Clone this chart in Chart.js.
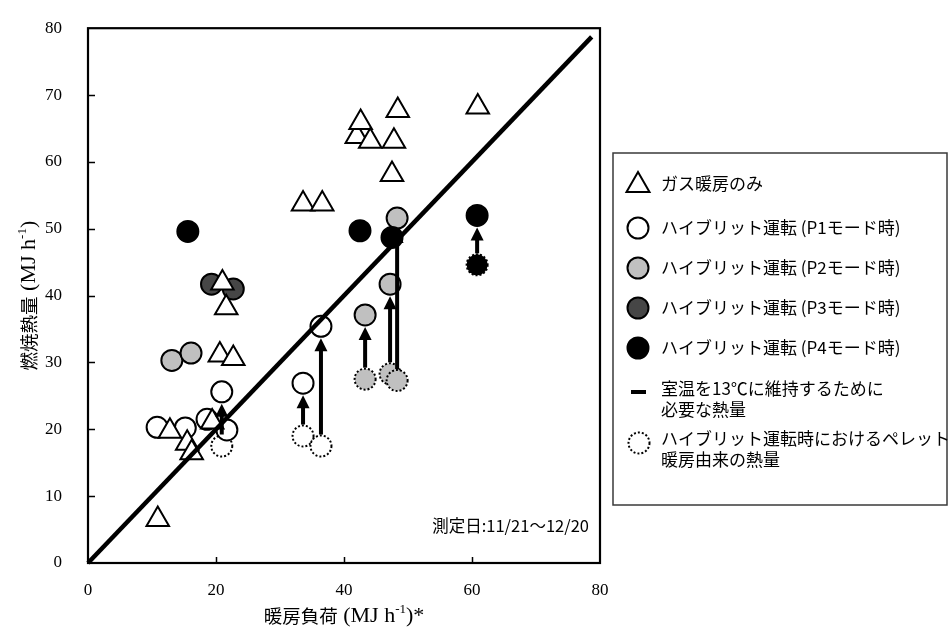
<!DOCTYPE html>
<html>
<head>
<meta charset="utf-8">
<script src="https://cdn.jsdelivr.net/npm/chart.js@4/dist/chart.umd.min.js"></script>
<style>
  html, body { margin: 0; padding: 0; background: #ffffff; }
  #wrap { position: relative; width: 950px; height: 635px; }
</style>
</head>
<body>
<div id="wrap"><canvas id="chart" width="950" height="635"></canvas></div>
<script>
// Axis ticks (MJ h-1)
const loadTicks = [0, 20, 40, 60, 80];
const heatTicks = [0, 10, 20, 30, 40, 50, 60, 70, 80];

// Gas heating only
const gasLoad = [10.9, 12.8, 15.5, 16.2, 19.4, 20.6, 22.7, 21.0, 21.6, 33.6, 36.6, 42.0, 42.6, 44.1, 47.8, 47.5, 48.4, 60.9];
const gasHeat = [6.5, 19.7, 17.9, 16.5, 21.1, 31.1, 30.6, 41.9, 38.2, 53.7, 53.7, 63.8, 65.9, 63.1, 63.1, 58.1, 67.7, 68.2];

// Hybrid operation, P1 mode
const p1Load = [10.8, 15.2, 18.6, 21.7, 20.9, 33.6, 36.4];
const p1Heat = [20.3, 20.2, 21.5, 19.9, 25.6, 26.9, 35.4];

// Hybrid operation, P2 mode
const p2Load = [13.1, 16.1, 43.3, 47.2, 48.3];
const p2Heat = [30.3, 31.4, 37.1, 41.7, 51.6];

// Hybrid operation, P3 mode
const p3Load = [19.3, 22.7];
const p3Heat = [41.7, 41.0];

// Hybrid operation, P4 mode
const p4Load = [15.6, 42.5, 47.5, 60.8];
const p4Heat = [49.6, 49.7, 48.7, 52.0];

// Heat supplied by the pellet stove during hybrid operation, and the
// total heat of the same run (arrow from the pellet share to the total)
const pelletLoad  = [20.9, 33.6, 36.4, 43.3, 47.2, 48.3, 60.8];
const pelletHeat  = [17.5, 19.0, 17.5, 27.5, 28.3, 27.3, 44.6];
const pelletMode  = ['P1', 'P1', 'P1', 'P2', 'P2', 'P2', 'P4'];
const hybridHeat  = [25.6, 26.9, 35.4, 37.1, 41.7, 51.6, 52.0];

// Heat required to keep the room at 13 °C (1:1 line)
const requiredLoad = [0, 78.7];
const requiredHeat = [0, 78.7];

const legendLabels = [
  ['ガス暖房のみ'],
  ['ハイブリット運転 (P1モード時)'],
  ['ハイブリット運転 (P2モード時)'],
  ['ハイブリット運転 (P3モード時)'],
  ['ハイブリット運転 (P4モード時)'],
  ['室温を13℃に維持するために', '必要な熱量'],
  ['ハイブリット運転時におけるペレット', '暖房由来の熱量']
];
const periodNote = '測定日:11/21〜12/20';

const CJK = "'Noto Sans CJK JP', 'Noto Sans', sans-serif";
const SERIF = "'Liberation Serif', 'Times New Roman', serif";
const modeFill = { P1: '#ffffff', P2: '#c0c0c0', P3: '#464646', P4: '#000000' };
const R = 10.5;

const pts = (xs, ys) => xs.map((v, i) => ({ x: v, y: ys[i] }));
const circleSet = (data, fill, order) => ({
  data, order, pointStyle: 'circle', pointRadius: R, pointHoverRadius: R,
  pointBackgroundColor: fill, pointBorderColor: '#000', pointBorderWidth: 2, showLine: false
});

function drawArrows(chart) {
  const { ctx, scales: { x, y } } = chart;
  ctx.save();
  ctx.fillStyle = '#000';
  ctx.strokeStyle = '#000';
  pelletLoad.forEach((v, i) => {
    const px = x.getPixelForValue(v);
    const yStart = y.getPixelForValue(pelletHeat[i]) - R - 1;
    const yTip = y.getPixelForValue(hybridHeat[i]) + R + 1.5;
    const head = 13, hw = 6.5;
    ctx.lineWidth = 4;
    ctx.beginPath();
    ctx.moveTo(px, yStart);
    ctx.lineTo(px, yTip + head - 1);
    ctx.stroke();
    ctx.beginPath();
    ctx.moveTo(px, yTip);
    ctx.lineTo(px - hw, yTip + head);
    ctx.lineTo(px + hw, yTip + head);
    ctx.closePath();
    ctx.fill();
  });
  ctx.restore();
}

// Dotted outline for the pellet markers, arrows after the 1:1 line
const markerPlugin = {
  id: 'markerPlugin',
  beforeDatasetDraw(chart, args) {
    const ds = chart.data.datasets[args.index];
    if (ds.dotted) { chart.ctx.save(); chart.ctx.setLineDash([2, 2]); }
  },
  afterDatasetDraw(chart, args) {
    const ds = chart.data.datasets[args.index];
    if (ds.dotted) chart.ctx.restore();
    if (ds.arrowsAfter) drawArrows(chart);
  }
};

// Plot frame with inward tick marks
const framePlugin = {
  id: 'framePlugin',
  beforeDatasetsDraw(chart) {
    const { ctx, chartArea: a, scales: { x, y } } = chart;
    ctx.save();
    ctx.strokeStyle = '#000';
    ctx.lineWidth = 1.5;
    ctx.beginPath();
    loadTicks.forEach(v => {
      if (v <= x.min || v >= x.max) return;
      const px = Math.round(x.getPixelForValue(v)) + 0.5;
      ctx.moveTo(px, a.bottom); ctx.lineTo(px, a.bottom - 6);
    });
    heatTicks.forEach(v => {
      if (v <= y.min || v >= y.max) return;
      const py = Math.round(y.getPixelForValue(v)) + 0.5;
      ctx.moveTo(a.left, py); ctx.lineTo(a.left + 7, py);
    });
    ctx.stroke();
    ctx.lineWidth = 2.2;
    ctx.strokeRect(a.left, a.top, a.right - a.left, a.bottom - a.top);
    ctx.restore();
  }
};

function drawMixed(ctx, parts, cx, cy) {
  let w = 0;
  parts.forEach(p => { ctx.font = p.font; p.w = ctx.measureText(p.t).width; w += p.w; });
  let x = cx - w / 2;
  ctx.textAlign = 'left';
  ctx.textBaseline = 'middle';
  parts.forEach(p => { ctx.font = p.font; ctx.fillText(p.t, x, cy + (p.dy || 0)); x += p.w; });
}

// Axis titles, note and legend box
const annotatePlugin = {
  id: 'annotatePlugin',
  afterDraw(chart) {
    const { ctx, chartArea: a } = chart;
    ctx.save();
    ctx.fillStyle = '#000';
    const cjk = '18.5px ' + CJK, ser = '22px ' + SERIF, sup = '13px ' + SERIF;

    drawMixed(ctx, [
      { t: '暖房負荷', font: cjk },
      { t: ' (MJ h', font: ser },
      { t: '-1', font: sup, dy: -6 },
      { t: ')*', font: ser }
    ], (a.left + a.right) / 2, 616);

    ctx.save();
    ctx.translate(29, (a.top + a.bottom) / 2);
    ctx.rotate(-Math.PI / 2);
    drawMixed(ctx, [
      { t: '燃焼熱量', font: cjk },
      { t: ' (MJ h', font: ser },
      { t: '-1', font: sup, dy: -6 },
      { t: ')', font: ser }
    ], 0, 0);
    ctx.restore();

    ctx.font = '16.5px ' + CJK;
    ctx.textAlign = 'right';
    ctx.textBaseline = 'middle';
    ctx.fillText(periodNote, a.right - 11, 526);

    // legend
    const bx = 613, by = 153, bw = 334, bh = 352;
    ctx.lineWidth = 1.5;
    ctx.strokeStyle = '#3a3a3a';
    ctx.strokeRect(bx, by, bw, bh);
    const sx = 638, tx = 661;
    const rows = [184, 228, 268, 308, 348, 389, 439];
    ctx.strokeStyle = '#000';
    ctx.lineWidth = 2;
    // triangle
    ctx.beginPath();
    ctx.moveTo(sx, rows[0] - 12);
    ctx.lineTo(sx + 11.5, rows[0] + 8);
    ctx.lineTo(sx - 11.5, rows[0] + 8);
    ctx.closePath();
    ctx.fillStyle = '#fff'; ctx.fill(); ctx.stroke();
    // mode circles
    ['P1', 'P2', 'P3', 'P4'].forEach((m, i) => {
      ctx.beginPath();
      ctx.arc(sx, rows[i + 1], 10.5, 0, Math.PI * 2);
      ctx.fillStyle = modeFill[m]; ctx.fill(); ctx.stroke();
    });
    // required heat line
    ctx.lineWidth = 4;
    ctx.beginPath(); ctx.moveTo(631, rows[5] + 3); ctx.lineTo(646, rows[5] + 3); ctx.stroke();
    // pellet share
    ctx.lineWidth = 2;
    ctx.setLineDash([2, 2]);
    ctx.beginPath(); ctx.arc(sx + 1, rows[6] + 4, 10.5, 0, Math.PI * 2);
    ctx.fillStyle = '#fff'; ctx.fill(); ctx.stroke();
    ctx.setLineDash([]);

    ctx.fillStyle = '#000';
    ctx.font = '17px ' + CJK;
    ctx.textAlign = 'left';
    ctx.textBaseline = 'middle';
    legendLabels.forEach((lines, i) => {
      lines.forEach((s, j) => ctx.fillText(s, tx, rows[i] + j * 21));
    });
    ctx.restore();
  }
};

new Chart(document.getElementById('chart'), {
  type: 'scatter',
  data: {
    datasets: [
      Object.assign(circleSet(pts(pelletLoad, pelletHeat), pelletMode.map(m => modeFill[m]), 8), { dotted: true, label: 'pellet' }),
      Object.assign(circleSet(pts(p1Load, p1Heat), modeFill.P1, 7), { label: 'P1' }),
      Object.assign(circleSet(pts(p2Load, p2Heat), modeFill.P2, 6), { label: 'P2' }),
      Object.assign(circleSet(pts(p3Load, p3Heat), modeFill.P3, 5), { label: 'P3' }),
      {
        label: 'gas', data: pts(gasLoad, gasHeat), order: 4, showLine: false,
        pointStyle: 'triangle', pointRadius: 13, pointHoverRadius: 13,
        pointBackgroundColor: '#fff', pointBorderColor: '#000', pointBorderWidth: 2
      },
      {
        label: 'required', data: pts(requiredLoad, requiredHeat), order: 3, showLine: true,
        borderColor: '#000', borderWidth: 4.5, pointRadius: 0, pointHoverRadius: 0,
        arrowsAfter: true, clip: false
      },
      Object.assign(circleSet(pts(p4Load, p4Heat), modeFill.P4, 1), { label: 'P4' })
    ]
  },
  options: {
    responsive: false,
    animation: false,
    devicePixelRatio: 1,
    events: [],
    layout: { padding: { top: 16, right: 350, left: 0, bottom: 0 } },
    plugins: { legend: { display: false }, tooltip: { enabled: false } },
    scales: {
      x: {
        type: 'linear', min: 0, max: 80,
        afterBuildTicks: s => { s.ticks = loadTicks.map(v => ({ value: v })); },
        afterFit: s => { s.height = 72; },
        grid: { display: false }, border: { display: false },
        ticks: { color: '#000', padding: 9, maxRotation: 0, font: { family: SERIF, size: 17 } }
      },
      y: {
        type: 'linear', min: 0, max: 80,
        afterBuildTicks: s => { s.ticks = heatTicks.map(v => ({ value: v })); },
        afterFit: s => { s.width = 88; },
        grid: { display: false }, border: { display: false },
        ticks: { color: '#000', padding: 18, font: { family: SERIF, size: 17 } }
      }
    }
  },
  plugins: [markerPlugin, framePlugin, annotatePlugin]
});
</script>
</body>
</html>
